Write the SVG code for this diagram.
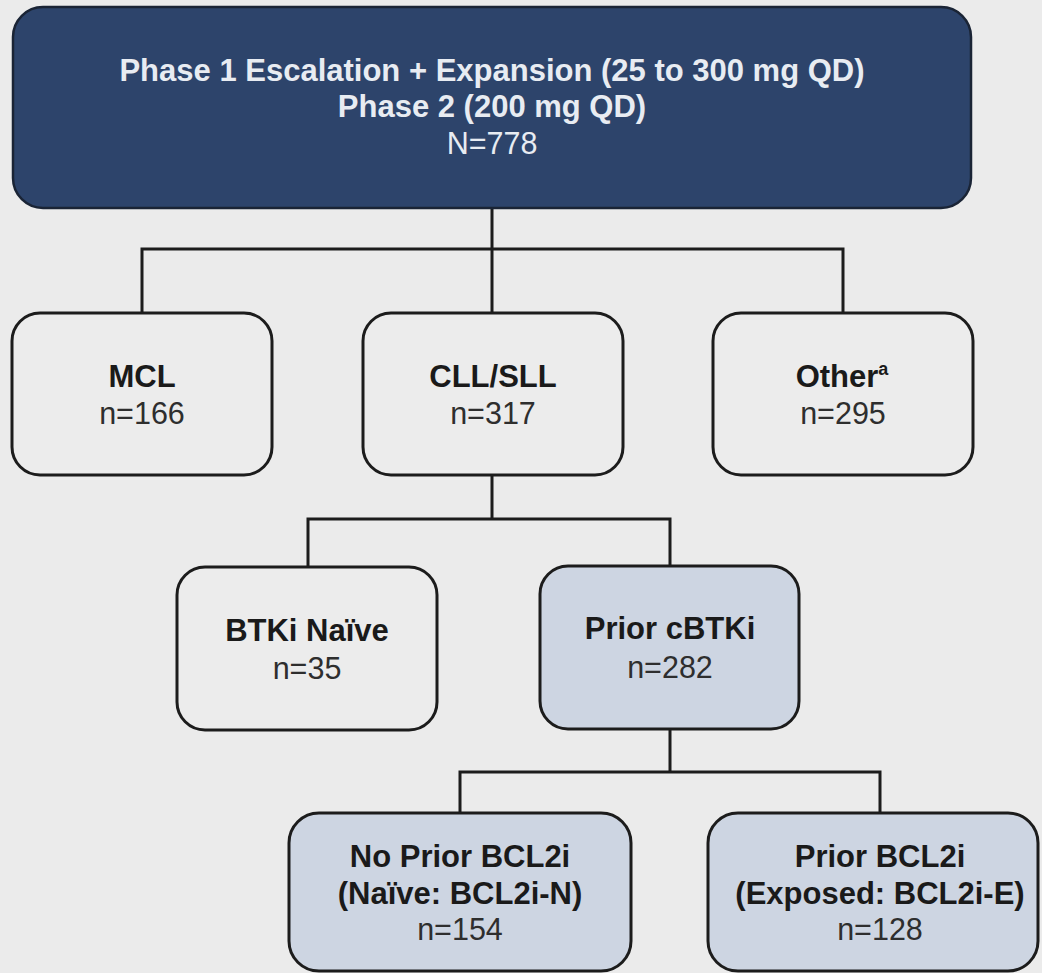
<svg xmlns="http://www.w3.org/2000/svg" width="1042" height="973" viewBox="0 0 1042 973">
  <style>
    .bg { fill: #ebebeb; }
    .box { fill: #ececec; stroke: #1c1c1c; stroke-width: 3; }
    .boxblue { fill: #cdd5e2; stroke: #1c1c1c; stroke-width: 3; }
    .top { fill: #2d446b; stroke: #1a2435; stroke-width: 2.5; }
    .conn { fill: none; stroke: #1c1c1c; stroke-width: 3; stroke-linecap: square; }
    text { font-family: "Liberation Sans", Arial, sans-serif; text-anchor: middle; font-size: 31px; }
    .b { font-weight: bold; fill: #1a1a1a; }
    .r { fill: #2e2e2e; font-size: 30.5px; }
    .tb { font-weight: bold; fill: #e8ecf2; }
    .tr { fill: #e8ecf2; font-size: 30.5px; }
  </style>
  <rect class="bg" x="0" y="0" width="1042" height="973"/>

  <g id="connectors">
    <path class="conn" d="M492 208 V249 M142 249 H843 M142 249 V313 M492 249 V313 M843 249 V313"/>
    <path class="conn" d="M492 475 V519 M308 519 H670 M308 519 V567 M670 519 V566"/>
    <path class="conn" d="M670 729 V772 M460 772 H880 M460 772 V813 M880 772 V813"/>
  </g>

  <g id="node-top">
    <rect class="top" x="13" y="7" width="958" height="201" rx="30"/>
    <text class="tb" x="492" y="81">Phase 1 Escalation + Expansion (25 to 300 mg QD)</text>
    <text class="tb" x="492" y="117">Phase 2 (200 mg QD)</text>
    <text class="tr" x="492" y="154">N=778</text>
  </g>

  <g id="node-mcl">
    <rect class="box" x="12" y="313" width="260" height="162" rx="28"/>
    <text class="b" x="142" y="387">MCL</text>
    <text class="r" x="142" y="424">n=166</text>
  </g>

  <g id="node-cll">
    <rect class="box" x="363" y="313" width="260" height="162" rx="28"/>
    <text class="b" x="493" y="387">CLL/SLL</text>
    <text class="r" x="493" y="424">n=317</text>
  </g>

  <g id="node-other">
    <rect class="box" x="713" y="313" width="260" height="162" rx="28"/>
    <text class="b" x="842" y="387">Other<tspan font-size="18" dy="-12">a</tspan></text>
    <text class="r" x="843" y="424">n=295</text>
  </g>

  <g id="node-btki-naive">
    <rect class="box" x="177" y="567" width="260" height="163" rx="28"/>
    <text class="b" x="307" y="641">BTKi Naïve</text>
    <text class="r" x="307" y="679">n=35</text>
  </g>

  <g id="node-prior-cbtki">
    <rect class="boxblue" x="540" y="566" width="259" height="163" rx="28"/>
    <text class="b" x="670" y="639">Prior cBTKi</text>
    <text class="r" x="670" y="678">n=282</text>
  </g>

  <g id="node-bcl2i-n">
    <rect class="boxblue" x="289" y="813" width="342" height="158" rx="30"/>
    <text class="b" x="460" y="867">No Prior BCL2i</text>
    <text class="b" x="460" y="904">(Naïve: BCL2i-N)</text>
    <text class="r" x="460" y="940">n=154</text>
  </g>

  <g id="node-bcl2i-e">
    <rect class="boxblue" x="708" y="813" width="330" height="158" rx="30"/>
    <text class="b" x="880" y="867">Prior BCL2i</text>
    <text class="b" x="880" y="904">(Exposed: BCL2i-E)</text>
    <text class="r" x="880" y="940">n=128</text>
  </g>
</svg>
